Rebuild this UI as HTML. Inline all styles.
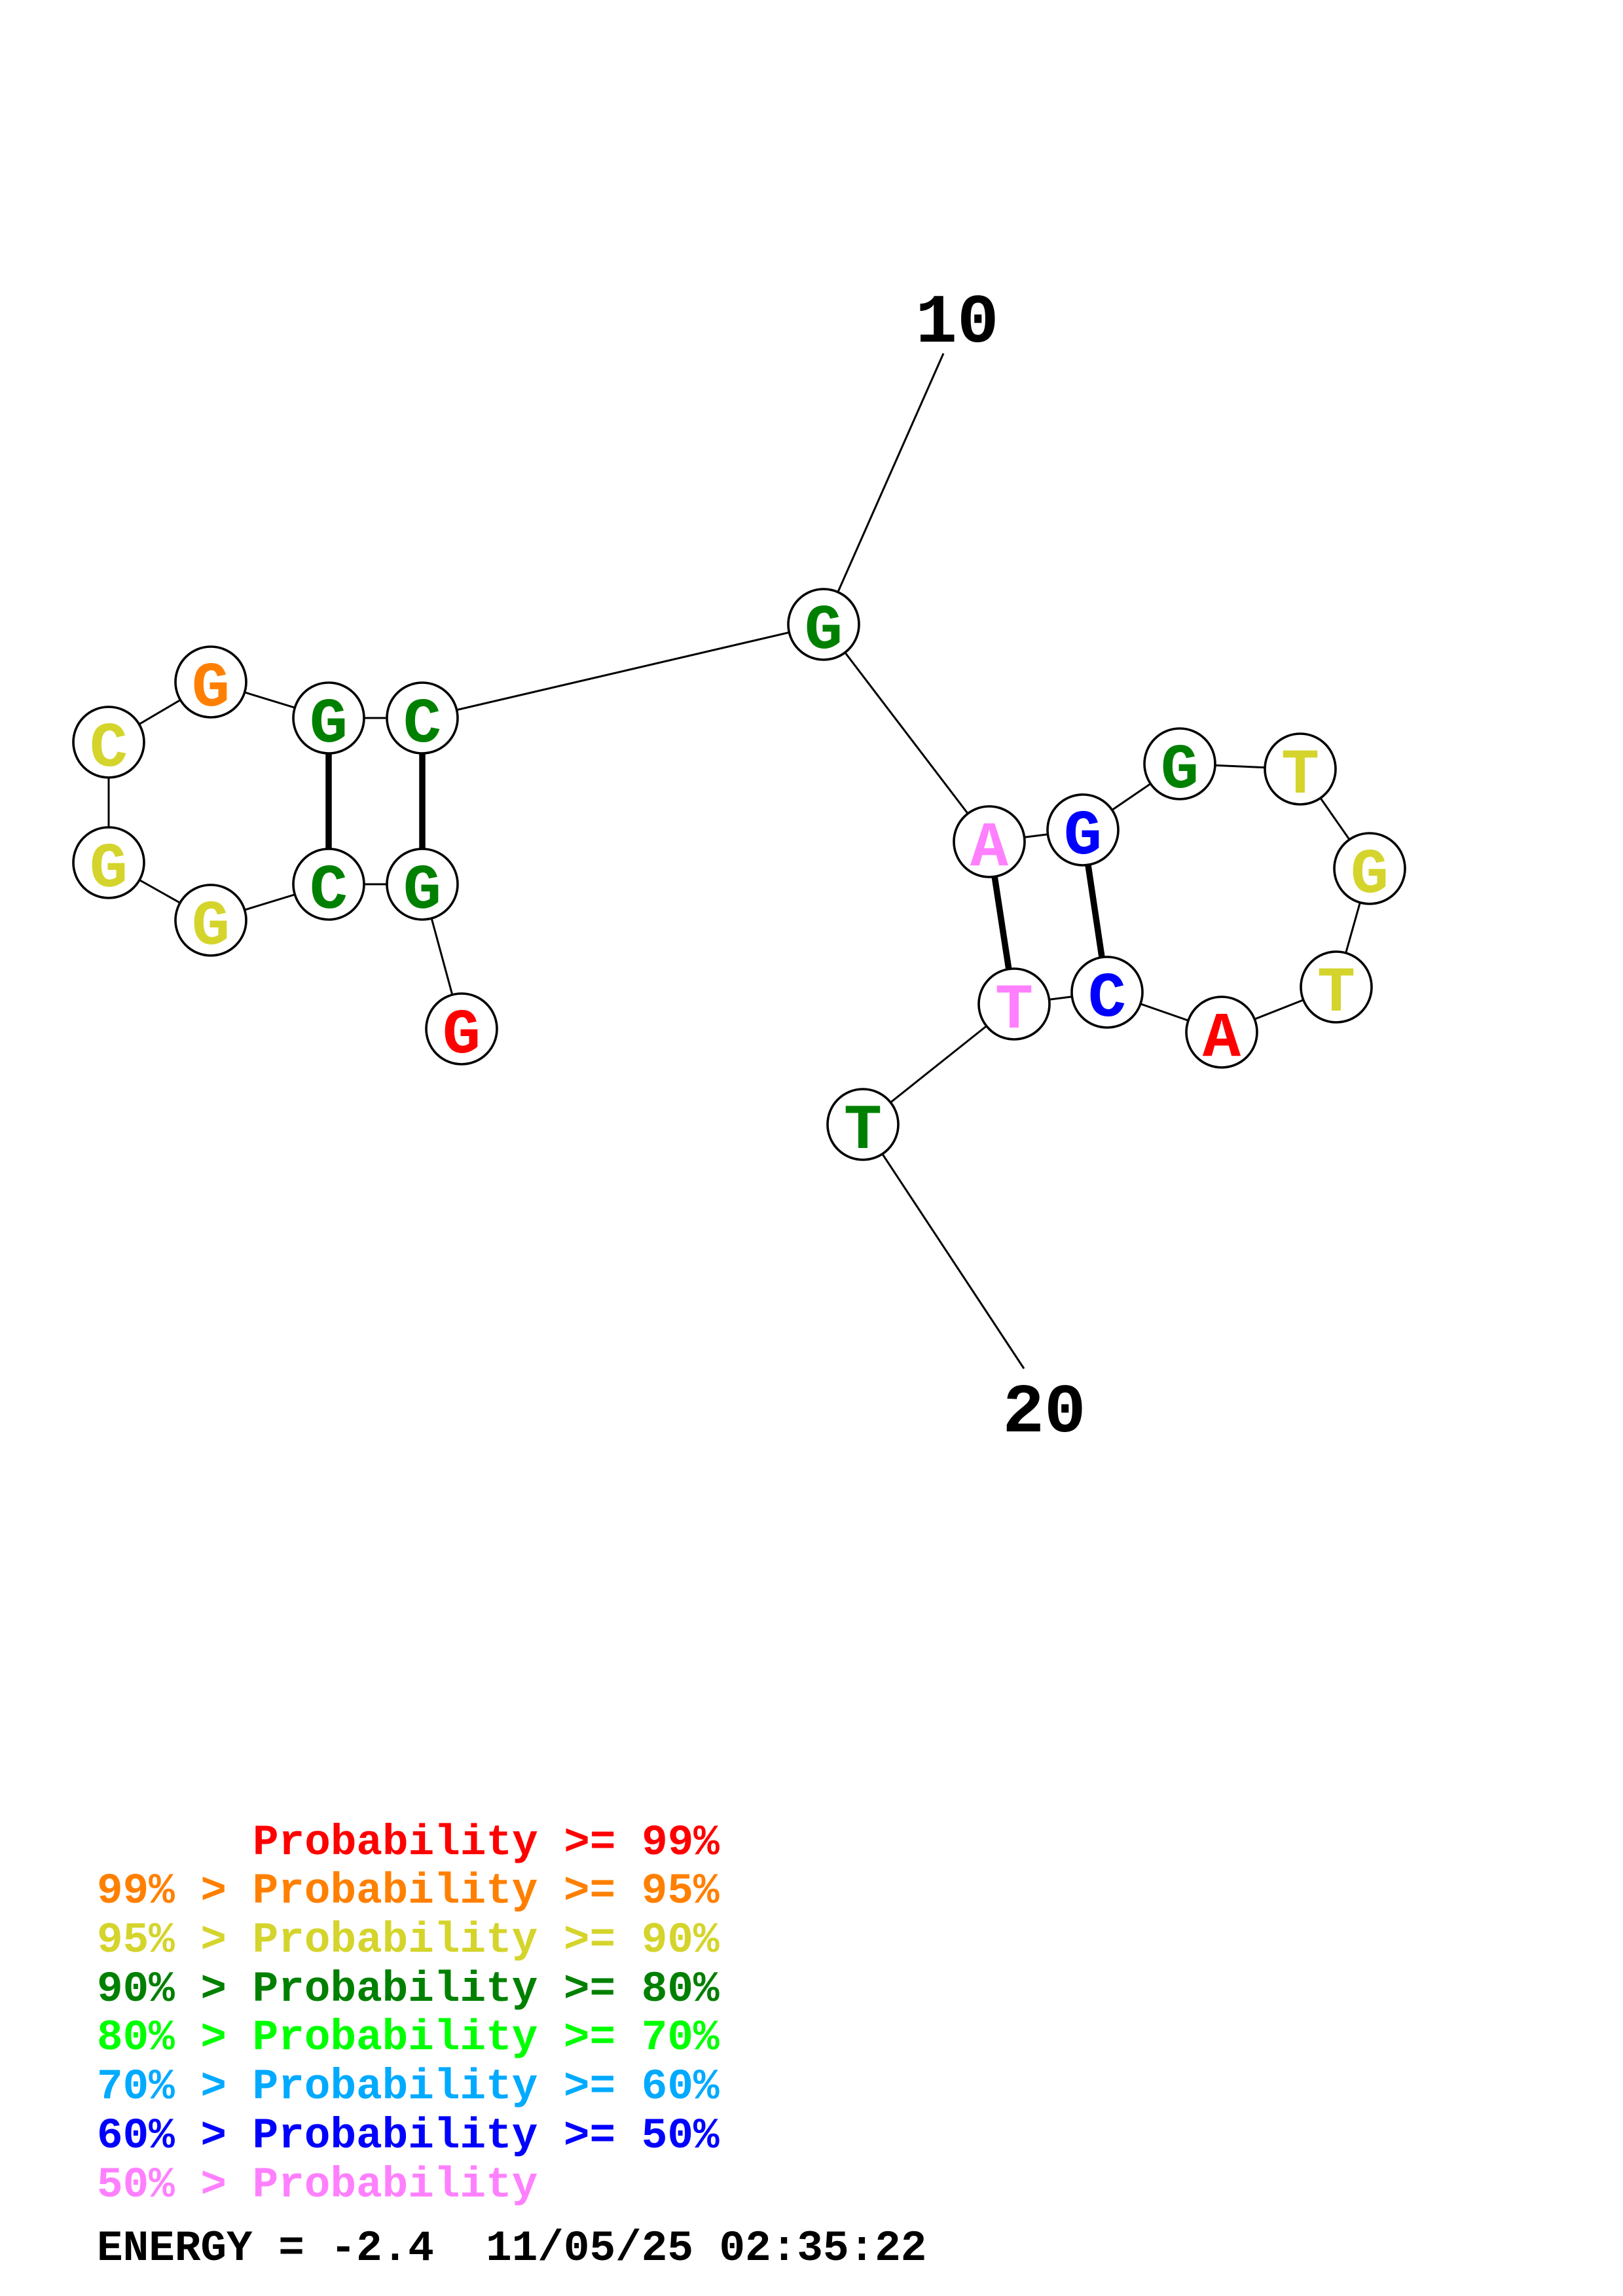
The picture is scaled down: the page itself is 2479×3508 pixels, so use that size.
<!DOCTYPE html>
<html>
<head>
<meta charset="utf-8">
<style>
html,body{margin:0;padding:0;background:#fff;}
svg{display:block;}
text{font-family:"Liberation Mono","DejaVu Sans Mono",monospace;font-weight:bold;white-space:pre;}
</style>
</head>
<body>
<svg xmlns="http://www.w3.org/2000/svg" width="2479" height="3508" viewBox="0 0 2479 3508">
<rect width="2479" height="3508" fill="#fff"/>
<g stroke="#000" stroke-width="3" fill="none">
<line x1="1441" y1="540" x2="1258" y2="954"/>
<line x1="1318" y1="1718" x2="1564" y2="2091"/>
<polyline points="705,1572 645,1351 502,1351 322,1406 166,1318 166,1134 322,1042 502,1097 645,1097 1258,954 1511,1286 1654,1268 1802,1167 1986,1175 2092,1327 2041,1508 1866,1577 1691,1516 1549,1534 1318,1718"/>
</g>
<g stroke="#000" stroke-width="9.5">
<line x1="502" y1="1351" x2="502" y2="1097"/>
<line x1="645" y1="1351" x2="645" y2="1097"/>
<line x1="1511" y1="1286" x2="1549" y2="1534"/>
<line x1="1654" y1="1268" x2="1691" y2="1516"/>
</g>
<g fill="#fff" stroke="#000" stroke-width="3.6">
<circle cx="705" cy="1572" r="54"/>
<circle cx="645" cy="1351" r="54"/>
<circle cx="502" cy="1351" r="54"/>
<circle cx="322" cy="1406" r="54"/>
<circle cx="166" cy="1318" r="54"/>
<circle cx="166" cy="1134" r="54"/>
<circle cx="322" cy="1042" r="54"/>
<circle cx="502" cy="1097" r="54"/>
<circle cx="645" cy="1097" r="54"/>
<circle cx="1258" cy="954" r="54"/>
<circle cx="1511" cy="1286" r="54"/>
<circle cx="1654" cy="1268" r="54"/>
<circle cx="1802" cy="1167" r="54"/>
<circle cx="1986" cy="1175" r="54"/>
<circle cx="2092" cy="1327" r="54"/>
<circle cx="2041" cy="1508" r="54"/>
<circle cx="1866" cy="1577" r="54"/>
<circle cx="1691" cy="1516" r="54"/>
<circle cx="1549" cy="1534" r="54"/>
<circle cx="1318" cy="1718" r="54"/>
</g>
<g font-size="97" text-anchor="middle">
<text x="705" y="1608" fill="#ff0000">G</text>
<text x="645" y="1387" fill="#008000">G</text>
<text x="502" y="1387" fill="#008000">C</text>
<text x="322" y="1442" fill="#d4d42c">G</text>
<text x="166" y="1354" fill="#d4d42c">G</text>
<text x="166" y="1170" fill="#d4d42c">C</text>
<text x="322" y="1078" fill="#ff8000">G</text>
<text x="502" y="1133" fill="#008000">G</text>
<text x="645" y="1133" fill="#008000">C</text>
<text x="1258" y="990" fill="#008000">G</text>
<text x="1511" y="1322" fill="#ff80ff">A</text>
<text x="1654" y="1304" fill="#0000ff">G</text>
<text x="1802" y="1203" fill="#008000">G</text>
<text x="1986" y="1211" fill="#d4d42c">T</text>
<text x="2092" y="1363" fill="#d4d42c">G</text>
<text x="2041" y="1544" fill="#d4d42c">T</text>
<text x="1866" y="1613" fill="#ff0000">A</text>
<text x="1691" y="1552" fill="#0000ff">C</text>
<text x="1549" y="1570" fill="#ff80ff">T</text>
<text x="1318" y="1754" fill="#008000">T</text>
</g>
<g font-size="106" text-anchor="middle" fill="#000">
<text x="1462" y="522">10</text>
<text x="1595" y="2187">20</text>
</g>
<g font-size="66">
<text x="386" y="2833" fill="#ff0000">Probability &gt;= 99%</text>
<text x="148" y="2907" fill="#ff8000">99% &gt; Probability &gt;= 95%</text>
<text x="148" y="2982" fill="#d4d42c">95% &gt; Probability &gt;= 90%</text>
<text x="148" y="3057" fill="#008000">90% &gt; Probability &gt;= 80%</text>
<text x="148" y="3131" fill="#00ff00">80% &gt; Probability &gt;= 70%</text>
<text x="148" y="3206" fill="#00aaff">70% &gt; Probability &gt;= 60%</text>
<text x="148" y="3281" fill="#0000ff">60% &gt; Probability &gt;= 50%</text>
<text x="148" y="3356" fill="#ff80ff">50% &gt; Probability</text>
<text x="148" y="3453" fill="#000">ENERGY = -2.4  11/05/25 02:35:22</text>
</g>
</svg>
</body>
</html>
